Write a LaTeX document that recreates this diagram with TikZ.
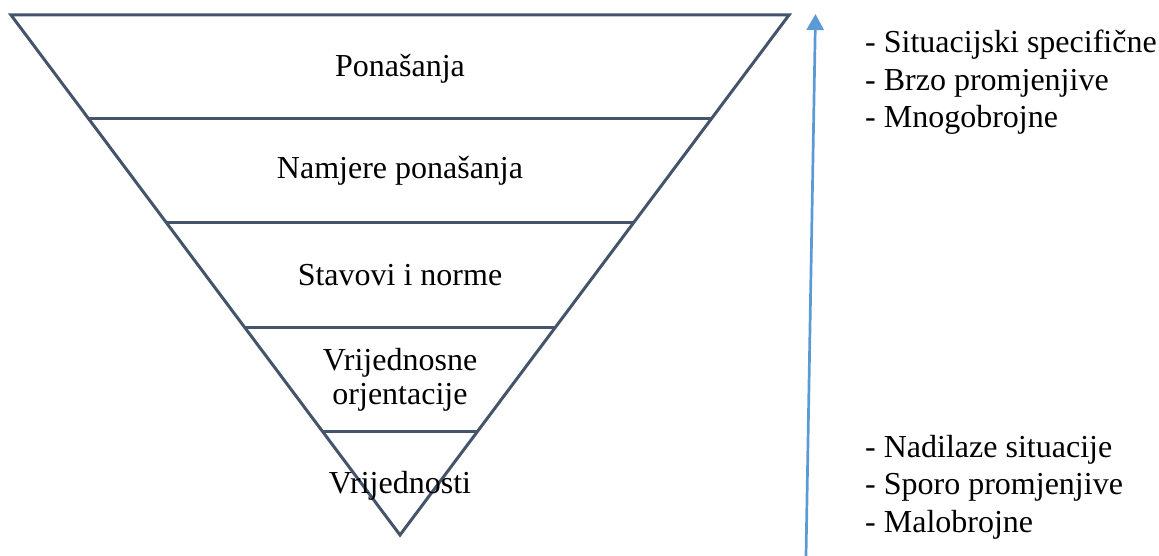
\documentclass[tikz,border=0pt]{standalone}
\usepackage{fontspec}
\setmainfont{Liberation Serif}
\usetikzlibrary{calc,arrows.meta}
\definecolor{edgegray}{HTML}{44546A}
\definecolor{arrowblue}{HTML}{5B9BD5}
\tikzset{
  tierlabel/.style={font=\fontsize{32}{34}\selectfont, align=center, inner sep=0pt, anchor=base},
  notelist/.style={font=\fontsize{32}{37.5}\selectfont, align=left, inner sep=0pt, anchor=base west},
  tierline/.style={line width=3pt, color=edgegray},
}

\begin{document}
\begin{tikzpicture}[x=1pt,y=-1pt]
		%%%%% START %%%%%
		\useasboundingbox (0,0) rectangle (1159,556);
		
		\coordinate (tl) at (11,15);
		\coordinate (tr) at (789,15);
		\coordinate (apex) at (400,535);
		\draw[tierline, line join=miter] (tl) -- (tr) -- (apex) -- cycle;
		\foreach \f in {0.2,0.4,0.6,0.8}
			\draw[tierline] ($(tl)!\f!(apex)$) -- ($(tr)!\f!(apex)$);
		
		% base anchor of a multi-line node = last line
		\node[tierlabel] (ponasanja) at (400,77) {Ponašanja};
		\node[tierlabel] (namjere) at (400,179) {Namjere ponašanja};
		\node[tierlabel] (stavovi) at (400,285) {Stavovi i norme};
		\node[tierlabel] (orijent) at (400,404) {Vrijednosne\\orjentacije};
		\node[tierlabel] (vrijed) at (400,493) {Vrijednosti};
		
		\coordinate (arrowtail) at (806,556);
		\coordinate (arrowtip) at (815.5,14);
		\draw[line width=2.7pt, color=arrowblue, -{Triangle[length=16pt,width=17pt]}] (arrowtail) -- (arrowtip);
		
		\node[notelist] (gore) at (865,128) {- Situacijski specifične\\- Brzo promjenjive\\- Mnogobrojne};
		\node[notelist] (dolje) at (865,532) {- Nadilaze situacije\\- Sporo promjenjive\\- Malobrojne};
		
		%%%%% END %%%%%
\end{tikzpicture}
\end{document}
